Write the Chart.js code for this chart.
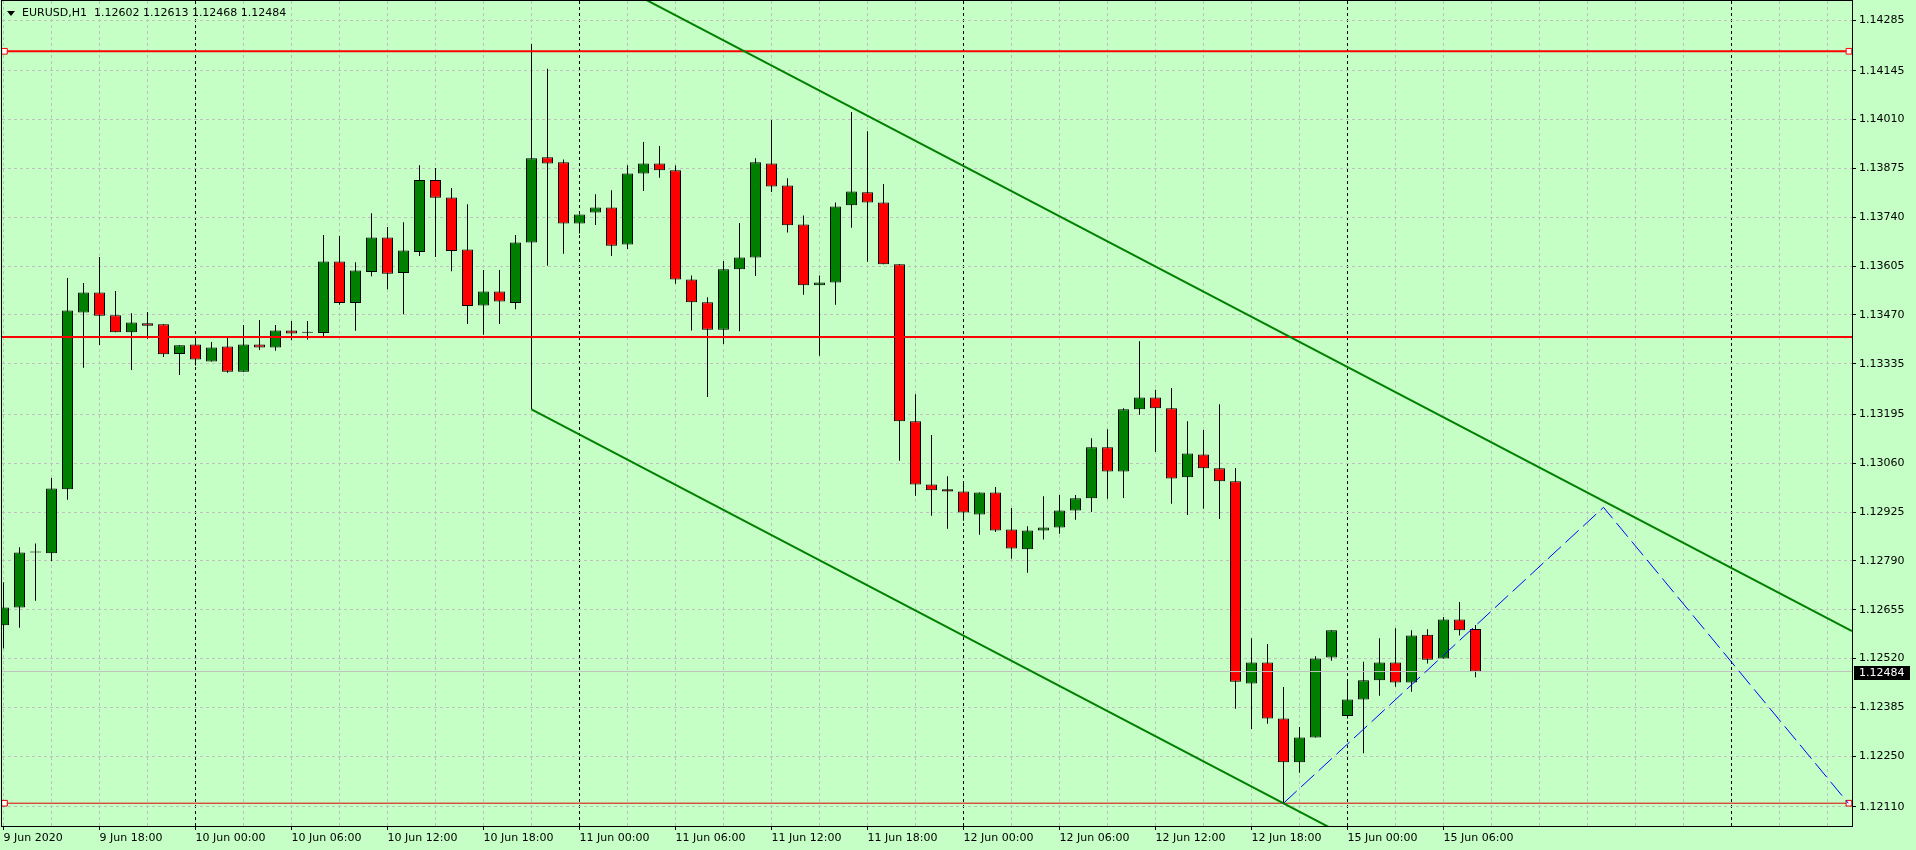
<!DOCTYPE html>
<html>
<head>
<meta charset="utf-8">
<title>EURUSD,H1</title>
<script src="https://cdn.jsdelivr.net/npm/chart.js@4.4.1/dist/chart.umd.min.js"></script>
<style>
  html, body { margin: 0; padding: 0; background: #c5ffc5; }
  #wrap { width: 1916px; height: 850px; }
</style>
</head>
<body>
<div id="wrap"><canvas id="chart"></canvas></div>
<script>
const symbol = "EURUSD,H1";

// bar 0 is 9 Jun 12:00, one label every 6 bars
const timeLabels = [
  "9 Jun 2020", "9 Jun 18:00", "10 Jun 00:00", "10 Jun 06:00", "10 Jun 12:00", "10 Jun 18:00",
  "11 Jun 00:00", "11 Jun 06:00", "11 Jun 12:00", "11 Jun 18:00", "12 Jun 00:00", "12 Jun 06:00",
  "12 Jun 12:00", "12 Jun 18:00", "15 Jun 00:00", "15 Jun 06:00"
];
const dayStarts = [12, 36, 60, 84, 108];

const priceTicks = [
  "1.14285", "1.14145", "1.14010", "1.13875", "1.13740", "1.13605", "1.13470", "1.13335", "1.13195",
  "1.13060", "1.12925", "1.12790", "1.12655", "1.12520", "1.12385", "1.12250", "1.12110"
];

const opens = [
  1.12612, 1.12661, 1.12813, 1.12811, 1.12988, 1.13477, 1.13532, 1.13469, 1.13422, 1.13447,
  1.13444, 1.13362, 1.13388, 1.13341, 1.13383, 1.13313, 1.13388, 1.13380, 1.13427, 1.13421,
  1.13420, 1.13618, 1.13503, 1.13589, 1.13684, 1.13586, 1.13644, 1.13843, 1.13795, 1.13651,
  1.13496, 1.13535, 1.13503, 1.13670, 1.13906, 1.13892, 1.13723, 1.13753, 1.13767, 1.13665,
  1.13861, 1.13889, 1.13870, 1.13568, 1.13505, 1.13429, 1.13596, 1.13629, 1.13889, 1.13828,
  1.13720, 1.13552, 1.13560, 1.13773, 1.13809, 1.13781, 1.13610, 1.13176, 1.13001, 1.12988,
  1.12982, 1.12918, 1.12979, 1.12877, 1.12822, 1.12874, 1.12882, 1.12929, 1.12963, 1.13104,
  1.13037, 1.13209, 1.13242, 1.13212, 1.13021, 1.13084, 1.13046, 1.13010, 1.12451, 1.12509,
  1.12354, 1.12233, 1.12302, 1.12523, 1.12361, 1.12407, 1.12460, 1.12509, 1.12454, 1.12586,
  1.12520, 1.12628, 1.12602
];
const highs = [
  1.12731, 1.12828, 1.12838, 1.13019, 1.13572, 1.13558, 1.13630, 1.13536, 1.13475, 1.13478,
  1.13444, 1.13386, 1.13407, 1.13395, 1.13407, 1.13442, 1.13456, 1.13442, 1.13453, 1.13453,
  1.13691, 1.13688, 1.13616, 1.13751, 1.13713, 1.13726, 1.13884, 1.13876, 1.13821, 1.13776,
  1.13594, 1.13594, 1.13691, 1.14219, 1.14151, 1.13900, 1.13748, 1.13804, 1.13815, 1.13884,
  1.13948, 1.13937, 1.13883, 1.13579, 1.13519, 1.13619, 1.13724, 1.13903, 1.14009, 1.13848,
  1.13745, 1.13579, 1.13781, 1.14031, 1.13978, 1.13832, 1.13610, 1.13251, 1.13138, 1.13024,
  1.13010, 1.12979, 1.12994, 1.12936, 1.12886, 1.12969, 1.12972, 1.12972, 1.13129, 1.13154,
  1.13212, 1.13397, 1.13263, 1.13268, 1.13176, 1.13152, 1.13223, 1.13047, 1.12576, 1.12560,
  1.12441, 1.12331, 1.12526, 1.12598, 1.12463, 1.12511, 1.12576, 1.12604, 1.12598, 1.12601,
  1.12635, 1.12676, 1.12613
];
const lows = [
  1.12548, 1.12605, 1.12680, 1.12790, 1.12959, 1.13324, 1.13387, 1.13422, 1.13318, 1.13404,
  1.13354, 1.13304, 1.13330, 1.13341, 1.13310, 1.13313, 1.13373, 1.13371, 1.13400, 1.13402,
  1.13409, 1.13498, 1.13426, 1.13577, 1.13541, 1.13472, 1.13633, 1.13630, 1.13591, 1.13445,
  1.13415, 1.13445, 1.13486, 1.13209, 1.13606, 1.13639, 1.13695, 1.13719, 1.13633, 1.13652,
  1.13813, 1.13849, 1.13556, 1.13427, 1.13243, 1.13390, 1.13425, 1.13578, 1.13810, 1.13698,
  1.13526, 1.13357, 1.13498, 1.13711, 1.13617, 1.13610, 1.13067, 1.12970, 1.12915, 1.12879,
  1.12901, 1.12862, 1.12870, 1.12796, 1.12757, 1.12849, 1.12865, 1.12904, 1.12925, 1.12962,
  1.12964, 1.13194, 1.13091, 1.12948, 1.12917, 1.12934, 1.12906, 1.12381, 1.12325, 1.12340,
  1.12120, 1.12204, 1.12302, 1.12514, 1.12354, 1.12258, 1.12417, 1.12442, 1.12428, 1.12506,
  1.12520, 1.12584, 1.12468
];
const closes = [
  1.12661, 1.12813, 1.12813, 1.12990, 1.13482, 1.13532, 1.13468, 1.13422, 1.13449, 1.13440,
  1.13361, 1.13386, 1.13347, 1.13380, 1.13313, 1.13388, 1.13380, 1.13427, 1.13419, 1.13421,
  1.13618, 1.13503, 1.13593, 1.13684, 1.13584, 1.13648, 1.13843, 1.13794, 1.13647, 1.13495,
  1.13535, 1.13507, 1.13670, 1.13903, 1.13889, 1.13723, 1.13748, 1.13767, 1.13661, 1.13861,
  1.13889, 1.13870, 1.13568, 1.13505, 1.13429, 1.13596, 1.13629, 1.13892, 1.13825, 1.13718,
  1.13552, 1.13560, 1.13770, 1.13811, 1.13781, 1.13610, 1.13176, 1.13001, 1.12985, 1.12982,
  1.12924, 1.12979, 1.12874, 1.12824, 1.12874, 1.12882, 1.12929, 1.12963, 1.13104, 1.13037,
  1.13209, 1.13242, 1.13212, 1.13018, 1.13087, 1.13046, 1.13010, 1.12456, 1.12509, 1.12354,
  1.12233, 1.12302, 1.12520, 1.12598, 1.12407, 1.12460, 1.12509, 1.12454, 1.12584, 1.12517,
  1.12628, 1.12598, 1.12484
];

// drawn objects, x in bars, y in price
const resistanceTop = 1.14199;
const resistanceMid = 1.13409;
const supportLow = 1.12120;
const lineMarkers = [0.06, 115.34];
const channelUpper = [{ x: 33, y: 1.14507 }, { x: 115.53, y: 1.12596 }];
const channelLower = [{ x: 33, y: 1.13209 }, { x: 90, y: 1.11888 }];
const zigzag = [{ x: 80, y: 1.12120 }, { x: 100, y: 1.12938 }, { x: 115.3, y: 1.12120 }];

const barMin = -0.09375, barMax = 115.53125;
const priceMin = 1.12057, priceMax = 1.14338;

const last = closes.length - 1;
const bullColor = "#008000";
const bearColor = "#ff0000";
const gridColor = "#c0c0c0";

function candleColor(i) {
  if (closes[i] > opens[i]) return bullColor;
  if (closes[i] < opens[i]) return bearColor;
  return "#000000";
}

function hline(y, color, width, markers) {
  return {
    type: "line",
    data: markers ? lineMarkers.map(x => ({ x, y })) : [{ x: barMin, y }, { x: barMax, y }],
    borderColor: color,
    borderWidth: width,
    pointRadius: markers ? 4 : 0,
    pointStyle: "rect",
    pointBackgroundColor: "#ffffff",
    pointBorderColor: color,
    pointBorderWidth: 1,
    order: 3
  };
}

const labeled = v => v % 6 === 0 && v / 6 < timeLabels.length;

// keep chart area fixed: no extra room for overhanging tick labels
function noPadding(scale) {
  scale.paddingTop = 0;
  scale.paddingBottom = 0;
  scale.paddingLeft = 0;
  scale.paddingRight = 0;
}

const overlay = {
  id: "overlay",
  afterDraw(chart) {
    const { ctx, chartArea: a, scales: { y } } = chart;
    ctx.save();
    ctx.strokeStyle = "#000";
    ctx.lineWidth = 1;
    ctx.strokeRect(a.left - 0.5, a.top - 0.5, a.right - a.left + 1, a.bottom - a.top + 1);

    ctx.fillStyle = "#000";
    ctx.beginPath();
    ctx.moveTo(a.left + 5, a.top + 10);
    ctx.lineTo(a.left + 13, a.top + 10);
    ctx.lineTo(a.left + 9, a.top + 15);
    ctx.closePath();
    ctx.fill();

    ctx.font = '11px "DejaVu Sans"';
    ctx.textBaseline = "middle";
    ctx.textAlign = "left";
    const ohlc = [opens[last], highs[last], lows[last], closes[last]].map(v => v.toFixed(5)).join(" ");
    ctx.fillText(symbol + "  " + ohlc, a.left + 20, a.top + 12.5);

    // bid label on the price scale
    const py = Math.round(y.getPixelForValue(closes[last]));
    ctx.fillRect(a.right + 2, py - 6, 56, 14);
    ctx.fillStyle = "#ffffff";
    ctx.fillText(closes[last].toFixed(5), a.right + 7, py + 1);
    ctx.restore();
  }
};

Chart.defaults.font.family = "DejaVu Sans";
Chart.defaults.font.size = 11;
Chart.defaults.color = "#000";

new Chart(document.getElementById("chart"), {
  type: "bar",
  data: {
    datasets: [
      {
        label: "wicks",
        data: lows.map((l, i) => ({ x: i, y: [l, highs[i]] })),
        backgroundColor: "#000",
        borderWidth: 0,
        barThickness: 1,
        grouped: false,
        inflateAmount: 0,
        order: 6
      },
      {
        label: "bodies",
        data: opens.map((o, i) => ({ x: i, y: [o, closes[i]] })),
        backgroundColor: ctx => candleColor(ctx.dataIndex),
        borderColor: "#000",
        borderWidth: 1,
        borderSkipped: false,
        barThickness: 11,
        minBarLength: 1,
        grouped: false,
        inflateAmount: 0,
        order: 5
      },
      {
        type: "line",
        data: [{ x: barMin, y: closes[last] }, { x: barMax, y: closes[last] }],
        borderColor: gridColor,
        borderWidth: 1,
        pointRadius: 0,
        order: 4
      },
      hline(resistanceTop, "#ff0000", 2, true),
      hline(resistanceMid, "#ff0000", 2, false),
      hline(supportLow, "#dd0000", 1, true),
      {
        type: "line",
        data: channelUpper,
        borderColor: "#008000",
        borderWidth: 2,
        pointRadius: 0,
        order: 2
      },
      {
        type: "line",
        data: channelLower,
        borderColor: "#008000",
        borderWidth: 2,
        pointRadius: 0,
        order: 2
      },
      {
        type: "line",
        data: zigzag,
        borderColor: "#0000ff",
        borderWidth: 1,
        borderDash: [18, 6],
        pointRadius: 0,
        order: 1
      }
    ]
  },
  options: {
    responsive: true,
    maintainAspectRatio: false,
    animation: false,
    layout: { autoPadding: false, padding: { left: 2, top: 1, right: 0, bottom: 0 } },
    plugins: { legend: { display: false }, tooltip: { enabled: false } },
    scales: {
      x: {
        type: "linear",
        min: barMin,
        max: barMax,
        bounds: "data",
        offset: false,
        afterBuildTicks: scale => {
          const t = [];
          for (let v = 0; v <= barMax; v += 3) t.push({ value: v });
          scale.ticks = t;
        },
        afterFit: scale => { scale.height = 24; noPadding(scale); },
        grid: {
          offset: false,
          color: c => (c.tick && dayStarts.includes(c.tick.value) ? "#000" : gridColor),
          tickColor: c => (c.tick && labeled(c.tick.value) ? "#000" : "rgba(0,0,0,0)"),
          tickLength: 4,
          lineWidth: 1
        },
        border: { display: false, dash: [3, 3] },
        ticks: {
          autoSkip: false,
          maxRotation: 0,
          minRotation: 0,
          align: "start",
          padding: 2,
          callback: v => (labeled(v) ? timeLabels[v / 6] : "")
        }
      },
      y: {
        type: "linear",
        position: "right",
        min: priceMin,
        max: priceMax,
        bounds: "data",
        beginAtZero: false,
        afterBuildTicks: scale => {
          scale.ticks = priceTicks.map(p => ({ value: parseFloat(p) }));
        },
        afterFit: scale => { scale.width = 64; noPadding(scale); },
        grid: { color: gridColor, tickColor: "#000", tickLength: 4 },
        border: { display: false, dash: [3, 3] },
        ticks: {
          autoSkip: false,
          padding: 3,
          callback: (v, i) => priceTicks[i]
        }
      }
    }
  },
  plugins: [overlay]
});
</script>
</body>
</html>
